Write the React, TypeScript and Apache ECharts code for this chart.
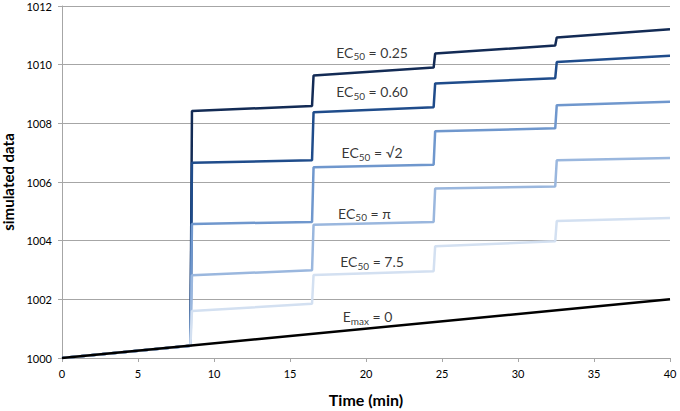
import React, { useEffect, useRef } from "react";
import * as echarts from "echarts";

const times = [0, 8.45, 8.55, 16.45, 16.55, 24.45, 24.55, 32.45, 32.55, 40];
const ec025 = [1000, 1000.42, 1008.42, 1008.59, 1009.63, 1009.9, 1010.38, 1010.65, 1010.93, 1011.21];
const ec060 = [1000, 1000.42, 1006.66, 1006.74, 1008.38, 1008.55, 1009.36, 1009.54, 1010.09, 1010.3];
const ecSqrt2 = [1000, 1000.42, 1004.57, 1004.64, 1006.5, 1006.59, 1007.73, 1007.83, 1008.62, 1008.74];
const ecPi = [1000, 1000.42, 1002.82, 1002.99, 1004.54, 1004.64, 1005.78, 1005.85, 1006.74, 1006.82];
const ec75 = [1000, 1000.42, 1001.6, 1001.85, 1002.83, 1002.96, 1003.81, 1003.98, 1004.67, 1004.77];
const emaxTimes = [0, 40];
const emax0 = [1000, 1002];

const labelMain = ["EC", "EC", "EC", "EC", "EC", "E"];
const labelSub = ["50", "50", "50", "50", "50", "max"];
const labelRest = [" = 0.25", " = 0.60", " = √2", " = π", " = 7.5", " = 0"];
const labelX = [20.4, 20.4, 20.4, 19.9, 20.4, 20.1];
const labelY = [1010.43, 1009.07, 1007.0, 1004.93, 1003.28, 1001.41];

const FONT = "Lato, 'Noto Sans', sans-serif";

export default function App() {
  const ref = useRef<HTMLDivElement>(null);
  useEffect(() => {
    if (!ref.current) return;
    const chart = echarts.init(ref.current, undefined, { renderer: "svg" });
    const mk = (ys: number[], xs: number[]) => xs.map((t, i) => [t, ys[i]]);
    const lineSeries = (name: string, ys: number[], color: string, xs = times, z = 2) => ({
      name,
      type: "line",
      data: mk(ys, xs),
      showSymbol: false,
      symbol: "none",
      lineStyle: { color, width: 2.5 },
      z,
      silent: true,
    });
    chart.setOption({
      animation: false,
      textStyle: { fontFamily: FONT },
      grid: { left: 62, right: 10, top: 6, bottom: 53, containLabel: false, outerBoundsMode: "none" },
      xAxis: {
        type: "value",
        min: 0,
        max: 40,
        interval: 5,
        name: "Time (min)",
        nameLocation: "middle",
        nameGap: 33,
        nameTextStyle: { fontSize: 16, fontWeight: "bold", color: "#000", fontFamily: FONT },
        axisLine: { lineStyle: { color: "#a6a6a6", width: 1 } },
        axisTick: { show: true, length: 4, lineStyle: { color: "#a6a6a6" } },
        axisLabel: { color: "#000", fontSize: 11, margin: 10, fontFamily: FONT },
        splitLine: { show: false },
      },
      yAxis: {
        type: "value",
        min: 1000,
        max: 1012,
        interval: 2,
        name: "simulated data",
        nameLocation: "middle",
        nameGap: 36,
        nameTextStyle: { fontSize: 15, fontWeight: "bold", color: "#000", fontFamily: FONT },
        axisLine: { show: true, lineStyle: { color: "#a6a6a6", width: 1 } },
        axisTick: { show: true, length: 4, lineStyle: { color: "#a6a6a6" } },
        axisLabel: { color: "#000", fontSize: 11, margin: 10, fontFamily: FONT, formatter: (v: number) => String(v) },
        splitLine: { show: true, lineStyle: { color: "#a6a6a6", width: 1 } },
      },
      series: [
        lineSeries("EC50 = 0.25", ec025, "#132b55"),
        lineSeries("EC50 = 0.60", ec060, "#1f4c8b"),
        lineSeries("EC50 = √2", ecSqrt2, "#6f97cd"),
        lineSeries("EC50 = π", ecPi, "#9ab7de"),
        lineSeries("EC50 = 7.5", ec75, "#d3e0f1"),
        lineSeries("Emax = 0", emax0, "#000000", emaxTimes, 3),
        {
          type: "scatter",
          symbolSize: 0,
          silent: true,
          z: 5,
          data: labelX.map((x, i) => ({
            value: [x, labelY[i]],
            label: {
              show: true,
              position: "inside",
              formatter: `{a|${labelMain[i]}}{s|${labelSub[i]}}{a|${labelRest[i]}}`,
            },
          })),
          label: {
            show: true,
            rich: {
              a: { fontSize: 14, color: "#000", fontFamily: FONT, lineHeight: 18 },
              s: { fontSize: 10, color: "#000", fontFamily: FONT, lineHeight: 18, padding: [8, 0, 0, 0] },
            },
          },
        },
      ],
    });
    return () => chart.dispose();
  }, []);
  return <div ref={ref} style={{ width: 680, height: 411, position: "absolute", left: 0, top: 0 }} />;
}
